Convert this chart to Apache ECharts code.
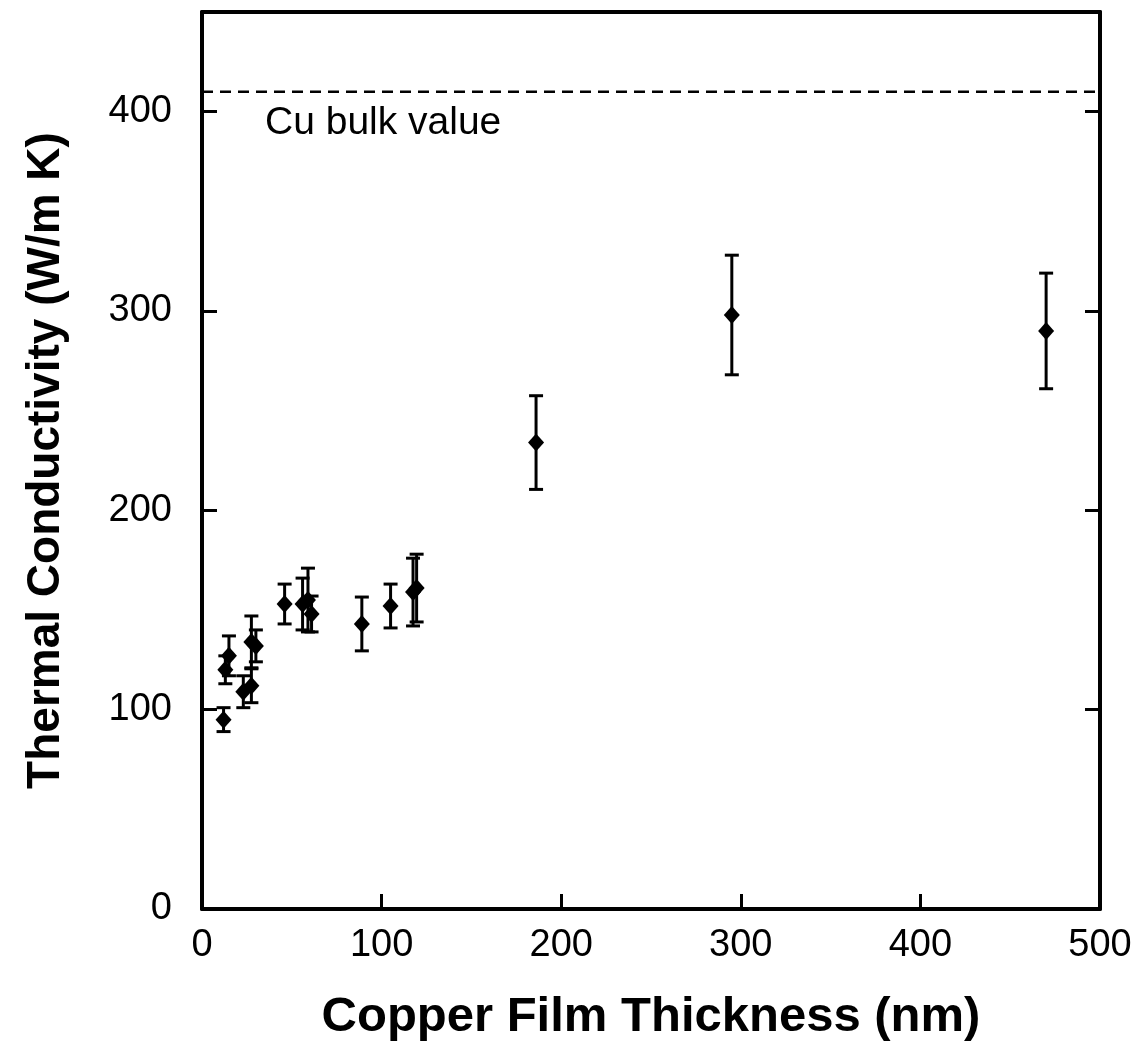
<!DOCTYPE html>
<html><head><meta charset="utf-8">
<script src="https://cdn.jsdelivr.net/npm/echarts@6/dist/echarts.min.js"></script>
<style>html,body{margin:0;padding:0;background:#fff}#c{width:1143px;height:1047px}</style>
</head><body><div id="c"></div>
<script>
// Copper film thickness (nm)
const thickness = [12, 13, 15, 23, 27.5, 27.5, 30, 46, 56, 59, 61, 89, 105, 117.5, 119.5, 186, 295, 470];
// Thermal conductivity (W/m K)
const conductivity = [95, 120, 127, 109, 112, 134, 132, 153, 153, 155, 148, 143, 152, 159, 161, 234, 298, 290];
// Symmetric error (W/m K)
const errors = [6, 7, 10, 8, 8.5, 13, 8, 10, 13, 16, 9, 13.5, 11, 17, 17, 23.5, 30, 29];
const bulkValue = 410;
const bulkLabel = 'Cu bulk value';
const xRange = [0, 500];
const yRange = [0, 450];

const pts = thickness.map((x, i) => [x, conductivity[i], errors[i]]);
const font = '"Liberation Sans", Arial, sans-serif';

const chart = echarts.init(document.getElementById('c'), null, {renderer: 'canvas'});
const axisLineStyle = {color: '#000', width: 4};
const tickStyle = {show: true, inside: true, length: 15, lineStyle: {color: '#000', width: 3}};
chart.setOption({
  backgroundColor: '#fff',
  animation: false,
  grid: {left: 202, right: 43, top: 12, bottom: 137, containLabel: false},
  xAxis: [{
    type: 'value', position: 'bottom', min: xRange[0], max: xRange[1], interval: 100,
    name: 'Copper Film Thickness (nm)', nameLocation: 'middle', nameGap: 84,
    nameTextStyle: {fontFamily: font, fontWeight: 'bold', fontSize: 49, color: '#000'},
    axisLine: {show: true, onZero: false, lineStyle: axisLineStyle},
    axisTick: tickStyle,
    axisLabel: {fontFamily: font, fontSize: 38, color: '#000', margin: 18},
    splitLine: {show: false}
  }, {
    type: 'value', position: 'top', min: xRange[0], max: xRange[1], interval: 100,
    axisLine: {show: true, onZero: false, lineStyle: axisLineStyle},
    axisTick: {show: false}, axisLabel: {show: false}, splitLine: {show: false}
  }],
  yAxis: [{
    type: 'value', position: 'left', min: yRange[0], max: yRange[1], interval: 100,
    name: 'Thermal Conductivity (W/m K)', nameLocation: 'middle', nameGap: 133, nameRotate: 90,
    nameTextStyle: {fontFamily: font, fontWeight: 'bold', fontSize: 46, color: '#000'},
    axisLine: {show: true, onZero: false, lineStyle: axisLineStyle},
    axisTick: tickStyle,
    axisLabel: {fontFamily: font, fontSize: 38, color: '#000', margin: 30, showMaxLabel: false},
    splitLine: {show: false}
  }, {
    type: 'value', position: 'right', min: yRange[0], max: yRange[1], interval: 100,
    axisLine: {show: true, onZero: false, lineStyle: axisLineStyle},
    axisTick: tickStyle,
    axisLabel: {show: false}, splitLine: {show: false}
  }],
  series: [{
    type: 'line', data: [[xRange[0], bulkValue], [xRange[1], bulkValue]],
    symbol: 'none', lineStyle: {color: '#000', width: 2.5, type: [11, 7]}, silent: true, z: 1
  }, {
    type: 'custom', data: pts, z: 2,
    renderItem: function (params, api) {
      const x = api.value(0), y = api.value(1), e = api.value(2);
      const top = api.coord([x, y + e]);
      const bot = api.coord([x, y - e]);
      const hw = 7;
      const st = {stroke: '#000', lineWidth: 3};
      return {type: 'group', children: [
        {type: 'line', shape: {x1: top[0], y1: top[1], x2: bot[0], y2: bot[1]}, style: st},
        {type: 'line', shape: {x1: top[0] - hw, y1: top[1], x2: top[0] + hw, y2: top[1]}, style: st},
        {type: 'line', shape: {x1: bot[0] - hw, y1: bot[1], x2: bot[0] + hw, y2: bot[1]}, style: st}
      ]};
    }
  }, {
    type: 'scatter', data: pts.map(p => [p[0], p[1]]), symbol: 'diamond', symbolSize: [16, 18],
    itemStyle: {color: '#000', opacity: 1}, z: 3
  }],
  graphic: [{
    type: 'text', left: 265, top: 104,
    style: {text: bulkLabel, font: '39px ' + font, fill: '#000'}
  }]
});
</script></body></html>
